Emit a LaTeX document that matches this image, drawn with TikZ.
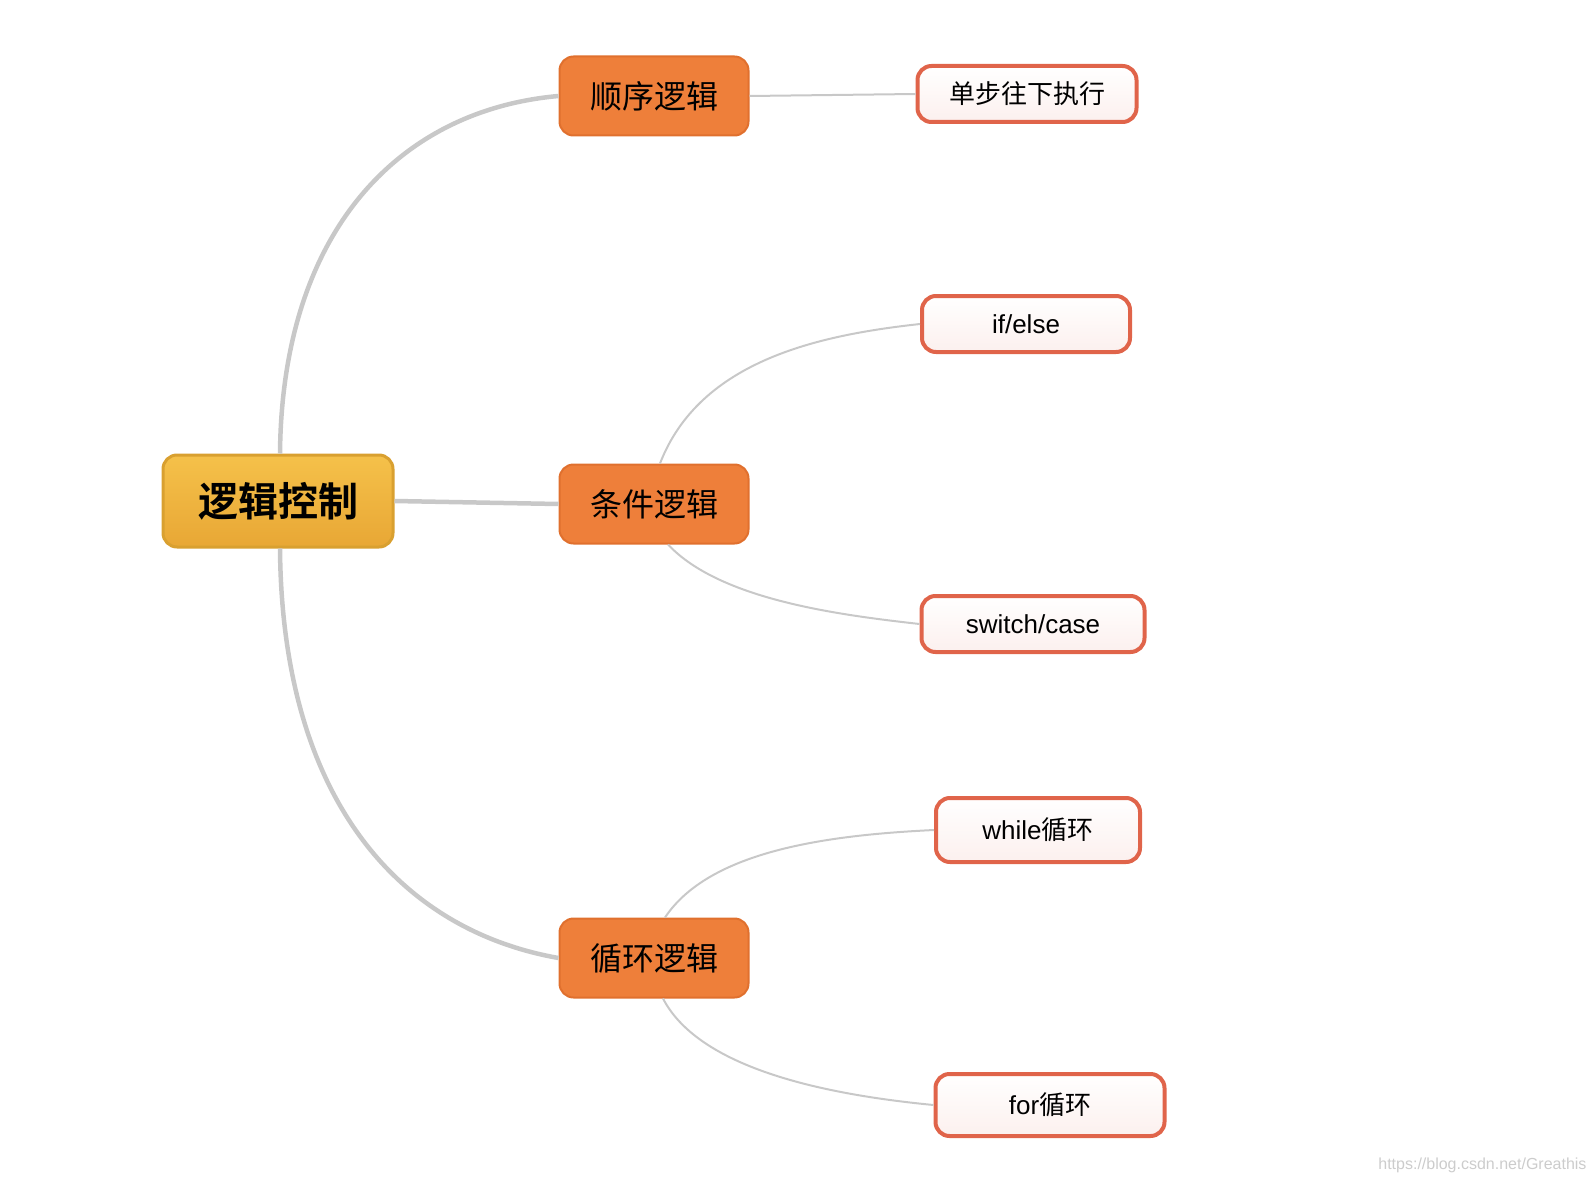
\documentclass[tikz,border=0pt]{standalone}
\usepackage{fontspec}
\setmainfont{Noto Sans CJK SC}
\newfontfamily\cjkb{Noto Sans CJK SC Bold}
\newfontfamily\lat{Liberation Sans}
\definecolor{midorg}{HTML}{EE7F3A}
\definecolor{midbd}{HTML}{E0702E}
\definecolor{roott}{HTML}{F5C14A}
\definecolor{rootb}{HTML}{E8A735}
\definecolor{rootbd}{HTML}{D9A030}
\definecolor{leafbd}{HTML}{E0644A}
\definecolor{leaff}{HTML}{FCF0EE}
\definecolor{linegray}{HTML}{C8C8C8}
\tikzset{
 rootbox/.style={draw=rootbd,line width=3pt,rounded corners=14pt,top color=roott,bottom color=rootb,minimum width=230pt,minimum height=92pt,font=\cjkb\fontsize{40}{44}\selectfont},
 midbox/.style={draw=midbd,line width=2pt,rounded corners=14pt,fill=midorg,minimum width=189pt,minimum height=79pt,font=\fontsize{32}{36}\selectfont},
 leafbox/.style={draw=leafbd,line width=4pt,rounded corners=14pt,top color=white,bottom color=leaff,minimum height=56pt,font=\fontsize{26}{30}\selectfont},
 thick/.style={draw=linegray,line width=4.5pt},
 thin/.style={draw=linegray,line width=2pt}
}
\begin{document}
\begin{tikzpicture}[x=1pt,y=-1pt]
\useasboundingbox (0,0) rectangle (1596,1204);
\node[rootbox] (root) at (278,501) {逻辑控制};
\node[midbox] (seq) at (654,96) {顺序逻辑};
\node[midbox] (cond) at (654,504) {条件逻辑};
\node[midbox] (loop) at (654,958) {循环逻辑};
\node[leafbox,minimum width=219pt] (step1) at (1027,94) {单步往下执行};
\node[leafbox,minimum width=208pt] (ife) at (1026,324) {\lat if/else};
\node[leafbox,minimum width=223pt] (sw) at (1033,624) {\lat switch/case};
\node[leafbox,minimum width=204pt,minimum height=64pt] (wh) at (1038,830) {{\lat while}循环};
\node[leafbox,minimum width=229pt,minimum height=62pt] (fo) at (1050,1105) {{\lat for}循环};
\draw[thick] ([xshift=2pt]root.north) .. controls (282,230) and (400,110) .. (seq.west);
\draw[thick] ([xshift=2pt]root.south) .. controls (282,800) and (400,930) .. (loop.west);
\draw[thick] (root.east) -- (cond.west);
\draw[thin] (seq.east) -- (step1.west);
\draw[thin] ([xshift=6pt]cond.north) .. controls (700,360) and (820,335) .. (ife.west);
\draw[thin] ([xshift=14pt]cond.south) .. controls (720,600) and (840,615) .. (sw.west);
\draw[thin] ([xshift=11pt]loop.north) .. controls (710,850) and (830,835) .. (wh.west);
\draw[thin] ([xshift=9pt]loop.south) .. controls (700,1070) and (830,1095) .. (fo.west);
\node[text=gray!40,font=\lat\fontsize{16}{18}\selectfont,anchor=south east] (wm) at (1590,1176) {https://blog.csdn.net/Greathis};
\end{tikzpicture}
\end{document}
